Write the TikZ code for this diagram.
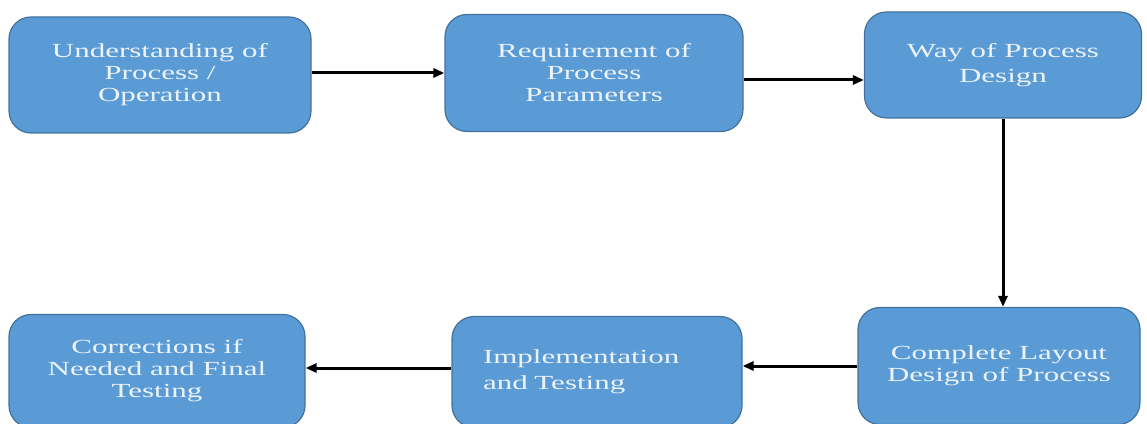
\documentclass[tikz,border=0pt]{standalone}
\usepackage{fontspec}
\newfontfamily\boxfont[FakeStretch=1.55]{Liberation Serif}
\usetikzlibrary{arrows.meta}
\definecolor{boxfill}{RGB}{91,155,213}
\definecolor{boxline}{RGB}{65,113,156}
\definecolor{boxtext}{RGB}{236,243,250}
\begin{document}
\begin{tikzpicture}[x = 1pt, y = 1pt,
    stage/.style = {draw=boxline, line width=1.2pt, fill=boxfill,
        rounded corners=22pt, text=boxtext, align=center, inner sep=0pt,
        font=\boxfont\fontsize{20}{22}\selectfont},
    flow/.style = {line width=3pt, -{Triangle[length=11pt,width=9pt]}}]
    \useasboundingbox (0,0) rectangle (1147,423);
    \node [stage, minimum width=302pt, minimum height=116pt] (understand) at (160,348)
        {Understanding of\\Process /\\Operation};
    \node [stage, minimum width=298pt, minimum height=117pt] (require) at (594,350)
        {Requirement of\\Process\\Parameters};
    \node [stage, minimum width=277pt, minimum height=106pt,
        font=\boxfont\fontsize{20}{25}\selectfont] (way) at (1003,358)
        {Way of Process\\Design};
    \node [stage, minimum width=282pt, minimum height=117pt] (layout) at (999,57)
        {Complete Layout\\Design of Process};
    \node [stage, minimum height=111pt, text width=228pt, inner xsep=31pt, align=left,
        font=\boxfont\fontsize{20}{26}\selectfont] (implement) at (597,51)
        {Implementation\\and Testing};
    \node [stage, minimum width=296pt, minimum height=113pt] (correct) at (157,52)
        {Corrections if\\Needed and Final\\Testing};
    \draw [flow] ([yshift=2pt]understand.east) -- ([yshift=2pt]understand.east -| require.west);
    \draw [flow] ([yshift=-7pt]require.east) -- ([yshift=-7pt]require.east -| way.west);
    \draw [flow] (way.south) -- (way.south |- layout.north);
    \draw [flow] (layout.west) -- (layout.west -| implement.east);
    \draw [flow] ([yshift=4pt]implement.west) -- ([yshift=4pt]implement.west -| correct.east);
\end{tikzpicture}
\end{document}
